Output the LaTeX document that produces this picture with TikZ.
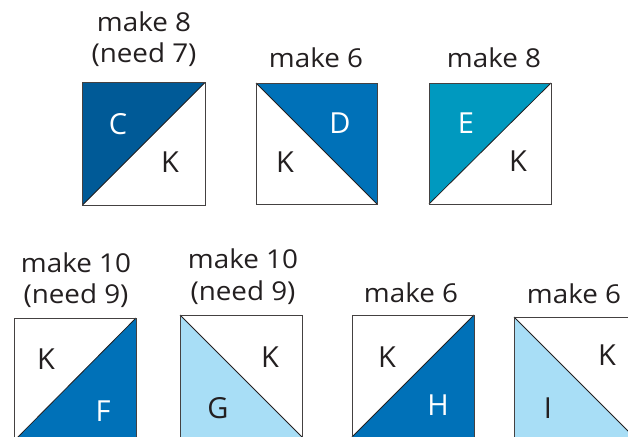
\documentclass[tikz,border=0pt]{standalone}
\usepackage{fontspec}
\setmainfont{Open Sans}
\newfontfamily\lblfont[FakeStretch=1.07]{Open Sans}
\newfontfamily\boxfont{Open Sans}
\definecolor{cdark}{HTML}{005A97}
\definecolor{cmid}{HTML}{0071B8}
\definecolor{cteal}{HTML}{0099BF}
\definecolor{clight}{HTML}{A8DEF6}
\definecolor{ink}{HTML}{231F20}
\begin{document}
\begin{tikzpicture}[x=1pt,y=-1pt,
  lbl/.style={inner sep=0pt,anchor=base,text=ink,font=\lblfont\fontsize{26}{30}\selectfont},
  let/.style={inner sep=0pt,anchor=center,font=\boxfont\fontsize{29}{32}\selectfont},
  wlet/.style={let,text=white},
  klet/.style={let,text=ink},
  boxline/.style={draw=ink!85,line width=0.9pt},
  diag/.style={draw=ink,line width=0.8pt}]
\useasboundingbox (0,0) rectangle (628,436);
\clip (0,0) rectangle (628,436);
% ---------- C ----------
\fill[cdark] (82.5,82.5) -- (205,82.5) -- (82.5,205) -- cycle;
\draw[diag] (82.5,205) -- (205,82.5);
\draw[boxline] (82.5,82.5) rectangle (205,205);
\node[wlet] (c) at (118,124) {C};
\node[klet] (ck) at (170,162) {K};
\node[lbl] (cl1) at (144,32) {make 8};
\node[lbl] (cl2) at (144,63) {(need 7)};
% ---------- D ----------
\fill[cmid] (256,83) -- (377,83) -- (377,204) -- cycle;
\draw[diag] (256,83) -- (377,204);
\draw[boxline] (256,83) rectangle (377,204);
\node[wlet] (d) at (340,123) {D};
\node[klet] (dk) at (285,162) {K};
\node[lbl] (dl) at (316,67) {make 6};
% ---------- E ----------
\fill[cteal] (429,83) -- (551,83) -- (429,204) -- cycle;
\draw[diag] (429,204) -- (551,83);
\draw[boxline] (429,83) rectangle (551,204);
\node[wlet] (e) at (466,123) {E};
\node[klet] (ek) at (518,161) {K};
\node[lbl] (el) at (494,67) {make 8};
% ---------- F ----------
\fill[cmid] (136,318) -- (136,441) -- (14,441) -- cycle;
\draw[diag] (14,441) -- (136,318);
\draw[boxline] (14,318) rectangle (136,441);
\node[klet] (fk) at (46,359) {K};
\node[wlet] (f) at (103,411) {F};
\node[lbl] (fl1) at (76,272) {make 10};
\node[lbl] (fl2) at (76,303) {(need 9)};
% ---------- G ----------
\fill[clight] (180,315) -- (180,437) -- (302,437) -- cycle;
\draw[diag] (180,315) -- (302,437);
\draw[boxline] (180,315) rectangle (302,437);
\node[klet] (gk) at (270,357) {K};
\node[klet] (g) at (218,408) {G};
\node[lbl] (gl1) at (243,268) {make 10};
\node[lbl] (gl2) at (243,300) {(need 9)};
% ---------- H ----------
\fill[cmid] (474,315) -- (474,437) -- (352,437) -- cycle;
\draw[diag] (352,437) -- (474,315);
\draw[boxline] (352,315) rectangle (474,437);
\node[klet] (hk) at (387,357) {K};
\node[wlet] (h) at (438,405) {H};
\node[lbl] (hl) at (411,302) {make 6};
% ---------- I ----------
\fill[clight] (514,317) -- (514,440) -- (637,440) -- cycle;
\draw[diag] (514,317) -- (637,440);
\draw[boxline] (514,317) rectangle (637,440);
\node[klet] (i) at (548,408) {I};
\node[klet] (ik) at (607,355) {K};
\node[lbl] (il) at (574,303) {make 6};
\end{tikzpicture}
\end{document}
